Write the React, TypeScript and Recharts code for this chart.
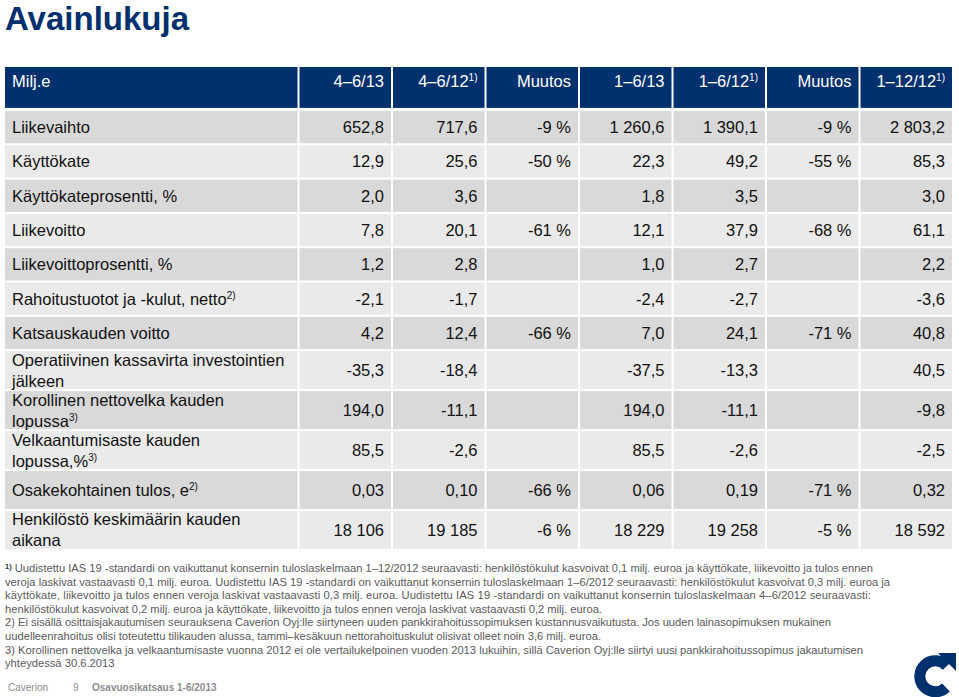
import { ScatterChart, Scatter, XAxis, YAxis } from 'recharts';

// --- data -----------------------------------------------------------------
const rowLabels: string[][] = [
  ['Liikevaihto'],
  ['Käyttökate'],
  ['Käyttökateprosentti, %'],
  ['Liikevoitto'],
  ['Liikevoittoprosentti, %'],
  ['Rahoitustuotot ja -kulut, netto'],
  ['Katsauskauden voitto'],
  ['Operatiivinen kassavirta investointien', 'jälkeen'],
  ['Korollinen nettovelka kauden', 'lopussa'],
  ['Velkaantumisaste kauden', 'lopussa,%'],
  ['Osakekohtainen tulos, e'],
  ['Henkilöstö keskimäärin kauden', 'aikana'],
];
const rowNotes = ['', '', '', '', '', '2)', '', '', '3)', '3)', '2)', ''];
const rowDecimals = [1, 1, 1, 1, 1, 1, 1, 1, 1, 1, 2, 0];

const headerFirst = 'Milj.e';
const columns = ['4–6/13', '4–6/12', 'Muutos', '1–6/13', '1–6/12', 'Muutos', '1–12/12'];
const columnNotes = ['', '1)', '', '', '1)', '', '1)'];

const q2_13 = [652.8, 12.9, 2.0, 7.8, 1.2, -2.1, 4.2, -35.3, 194.0, 85.5, 0.03, 18106];
const q2_12 = [717.6, 25.6, 3.6, 20.1, 2.8, -1.7, 12.4, -18.4, -11.1, -2.6, 0.1, 19185];
const q2Change = [-9, -50, null, -61, null, null, -66, null, null, null, -66, -6];
const h1_13 = [1260.6, 22.3, 1.8, 12.1, 1.0, -2.4, 7.0, -37.5, 194.0, 85.5, 0.06, 18229];
const h1_12 = [1390.1, 49.2, 3.5, 37.9, 2.7, -2.7, 24.1, -13.3, -11.1, -2.6, 0.19, 19258];
const h1Change = [-9, -55, null, -68, null, null, -71, null, null, null, -71, -5];
const fy_12 = [2803.2, 85.3, 3.0, 61.1, 2.2, -3.6, 40.8, 40.5, -9.8, -2.5, 0.32, 18592];

const series: { values: (number | null)[]; pct: boolean }[] = [
  { values: q2_13, pct: false },
  { values: q2_12, pct: false },
  { values: q2Change, pct: true },
  { values: h1_13, pct: false },
  { values: h1_12, pct: false },
  { values: h1Change, pct: true },
  { values: fy_12, pct: false },
];

// --- layout ---------------------------------------------------------------
const W = 959;
const H = 697;
const M = { top: 66, left: 4, right: 6, bottom: 147 };
const LABEL_SPAN = 3.15;
const HEADER_SPAN = 1.28;
const ROW_SPANS = [1, 1, 1, 1, 1, 1, 1, 1.165, 1.165, 1.165, 1.165, 1.165];
const NAVY = '#00306E';
const FONT = '"Liberation Sans", Arial, sans-serif';

const totalCols = LABEL_SPAN + columns.length;
const allRowSpans = [HEADER_SPAN, ...ROW_SPANS];
const totalRows = allRowSpans.reduce((a, b) => a + b, 0);
const pxX = (W - M.left - M.right) / totalCols;
const pxY = (H - M.top - M.bottom) / totalRows;

const rowStart: number[] = [];
allRowSpans.reduce((acc, s, i) => {
  rowStart[i] = acc;
  return acc + s;
}, 0);
const rowCenter = (r: number) => rowStart[r] + allRowSpans[r] / 2;
const colCenter = (c: number) => (c < 0 ? LABEL_SPAN / 2 : LABEL_SPAN + c + 0.5);

function fmt(v: number | null, dec: number, pct: boolean) {
  if (v === null) return '';
  if (pct) return `${v} %`;
  const [i, d] = Math.abs(v).toFixed(dec).split('.');
  const grouped = i.replace(/\B(?=(\d{3})+(?!\d))/g, ' ');
  return (v < 0 ? '-' : '') + grouped + (d ? ',' + d : '');
}

type CellDatum = {
  x: number;
  y: number;
  lines: string[];
  note: string;
  kind: 'header' | 'label' | 'value';
  row: number;
  span: number;
  rowSpan: number;
};

const headerData: CellDatum[] = [headerFirst, ...columns].map((t, i) => ({
  x: colCenter(i - 1),
  y: rowCenter(0),
  lines: [t],
  note: i === 0 ? '' : columnNotes[i - 1],
  kind: 'header',
  row: -1,
  span: i === 0 ? LABEL_SPAN : 1,
  rowSpan: HEADER_SPAN,
}));

const labelData: CellDatum[] = rowLabels.map((lines, r) => ({
  x: colCenter(-1),
  y: rowCenter(r + 1),
  lines,
  note: rowNotes[r],
  kind: 'label',
  row: r,
  span: LABEL_SPAN,
  rowSpan: ROW_SPANS[r],
}));

const valueData: CellDatum[][] = series.map((s, c) =>
  s.values.map((v, r) => ({
    x: colCenter(c),
    y: rowCenter(r + 1),
    lines: [fmt(v, rowDecimals[r], s.pct)],
    note: '',
    kind: 'value',
    row: r,
    span: 1,
    rowSpan: ROW_SPANS[r],
  }))
);

function CellShape(props: any) {
  const { cx, cy, payload } = props;
  const d = payload as CellDatum;
  const w = d.span * pxX;
  const h = d.rowSpan * pxY;
  const left = cx - w / 2 + 1;
  const top = cy - h / 2 + 1;
  const hh = d.kind === 'header' ? h - 3 : h - 2;
  const fill = d.kind === 'header' ? NAVY : d.row % 2 === 0 ? '#D9D9D9' : '#EAEAEA';
  const color = d.kind === 'header' ? '#fff' : '#111';
  const isLeft = d.kind === 'label' || (d.kind === 'header' && d.span > 1);
  const tx = isLeft ? left + 7 : left + w - 2 - 7;
  const baseY = d.kind === 'header' ? cy - 7 : cy;
  const gap = 21;
  return (
    <g>
      <rect x={left} y={top} width={w - 2} height={hh} fill={fill} />
      {d.lines.map((line, i) => {
        const ly = baseY + (i - (d.lines.length - 1) / 2) * gap;
        const last = i === d.lines.length - 1;
        return (
          <text
            key={i}
            x={tx}
            y={ly}
            dy="0.36em"
            textAnchor={isLeft ? 'start' : 'end'}
            fontFamily={FONT}
            fontSize={16.5}
            fill={color}
          >
            {line}
            {last && d.note ? (
              <tspan fontSize={10} dy={-6}>
                {d.note}
              </tspan>
            ) : null}
          </text>
        );
      })}
    </g>
  );
}

const footLines: { text: string; width: number | null; sup?: string }[] = [
  {
    sup: '1)',
    text: ' Uudistettu IAS 19 -standardi on vaikuttanut konsernin tuloslaskelmaan 1–12/2012 seuraavasti: henkilöstökulut kasvoivat 0,1 milj. euroa ja käyttökate, liikevoitto ja tulos ennen',
    width: 868,
  },
  {
    text: 'veroja laskivat vastaavasti 0,1 milj. euroa. Uudistettu IAS 19 -standardi on vaikuttanut konsernin tuloslaskelmaan 1–6/2012 seuraavasti: henkilöstökulut kasvoivat 0,3 milj. euroa ja',
    width: 885,
  },
  {
    text: 'käyttökate, liikevoitto ja tulos ennen veroja laskivat vastaavasti 0,3 milj. euroa. Uudistettu IAS 19 -standardi on vaikuttanut konsernin tuloslaskelmaan 4–6/2012 seuraavasti:',
    width: 866,
  },
  {
    text: 'henkilöstökulut kasvoivat 0,2 milj. euroa ja käyttökate, liikevoitto ja tulos ennen veroja laskivat vastaavasti 0,2 milj. euroa.',
    width: 597,
  },
  {
    text: '2) Ei sisällä osittaisjakautumisen seurauksena Caverion Oyj:lle siirtyneen uuden pankkirahoitussopimuksen kustannusvaikutusta. Jos uuden lainasopimuksen mukainen',
    width: 826,
  },
  {
    text: 'uudelleenrahoitus olisi toteutettu tilikauden alussa, tammi–kesäkuun nettorahoituskulut olisivat olleet noin 3,6 milj. euroa.',
    width: 596,
  },
  {
    text: '3) Korollinen nettovelka ja velkaantumisaste vuonna 2012 ei ole vertailukelpoinen vuoden 2013 lukuihin, sillä Caverion Oyj:lle siirtyi uusi pankkirahoitussopimus jakautumisen',
    width: 858,
  },
  { text: 'yhteydessä 30.6.2013', width: null },
];

export default function App() {
  return (
    <div
      style={{
        position: 'absolute',
        left: 0,
        top: 0,
        width: W,
        height: H,
        background: '#fff',
        fontFamily: FONT,
        overflow: 'hidden',
      }}
    >
      <div
        style={{
          position: 'absolute',
          left: 5,
          top: 0,
          fontSize: 33,
          fontWeight: 'bold',
          color: NAVY,
          lineHeight: 'normal',
          whiteSpace: 'nowrap',
        }}
      >
        Avainlukuja
      </div>

      <div style={{ position: 'absolute', left: 0, top: 0 }}>
        <ScatterChart width={W} height={H} margin={M}>
          <XAxis type="number" dataKey="x" domain={[0, totalCols]} hide />
          <YAxis type="number" dataKey="y" domain={[0, totalRows]} reversed hide />
          <Scatter data={headerData} shape={(p: any) => <CellShape {...p} />} isAnimationActive={false} />
          <Scatter data={labelData} shape={(p: any) => <CellShape {...p} />} isAnimationActive={false} />
          {valueData.map((d, i) => (
            <Scatter
              key={i}
              data={d}
              shape={(p: any) => <CellShape {...p} />}
              isAnimationActive={false}
            />
          ))}
        </ScatterChart>
      </div>

      <svg style={{ position: 'absolute', left: 0, top: 555 }} width={W} height={120}>
        {footLines.map((l, i) => (
          <text
            key={i}
            x={5}
            y={17 + i * 13.6}
            fontFamily={FONT}
            fontSize={11.2}
            fill="#5A5A5A"
            textLength={l.width ?? undefined}
            lengthAdjust={l.width ? 'spacing' : undefined}
          >
            {l.sup ? (
              <tspan fontSize={7.5} fontWeight="bold" fill="#333" dy={-3.5}>
                {l.sup}
              </tspan>
            ) : null}
            {l.sup ? <tspan dy={3.5}>{l.text}</tspan> : l.text}
          </text>
        ))}
      </svg>

      <div
        style={{
          position: 'absolute',
          left: 8,
          top: 682,
          fontSize: 10,
          color: '#8C8C8C',
          whiteSpace: 'nowrap',
        }}
      >
        <span>Caverion</span>
        <span style={{ position: 'absolute', left: 65 }}>9</span>
        <span style={{ position: 'absolute', left: 84, fontWeight: 'bold' }}>Osavuosikatsaus 1-6/2013</span>
      </div>

      <svg style={{ position: 'absolute', left: 910, top: 648 }} width={49} height={49}>
        <path d="M 36.9 18 A 15.5 15.5 0 1 0 36 39.5" fill="none" stroke={NAVY} strokeWidth={11} />
        <polygon points="28,5 46,5 46,23" fill={NAVY} />
      </svg>
    </div>
  );
}
